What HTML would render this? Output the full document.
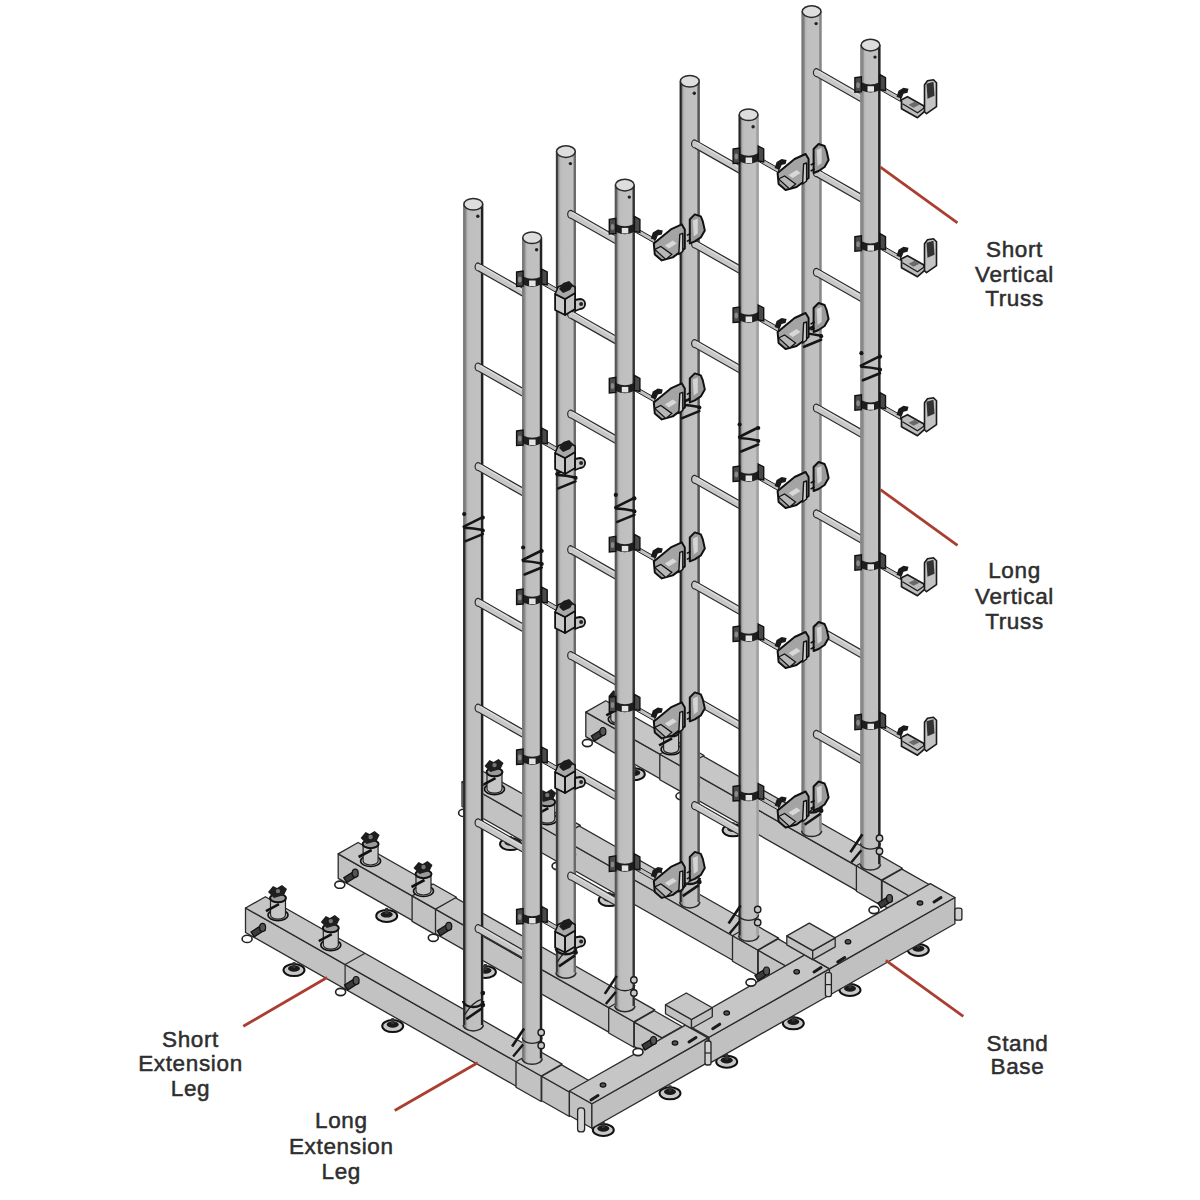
<!DOCTYPE html><html><head><meta charset="utf-8"><title>Truss stand</title><style>html,body{margin:0;padding:0;background:#fff;width:1200px;height:1200px;overflow:hidden}svg{display:block}</style></head><body><svg width="1200" height="1200" viewBox="0 0 1200 1200"><defs><linearGradient id="pg" x1="0" x2="1" y1="0" y2="0"><stop offset="0" stop-color="#7e7e7e"/><stop offset="0.14" stop-color="#8e8e8e"/><stop offset="0.2" stop-color="#b6b6b6"/><stop offset="0.3" stop-color="#bfbfbf"/><stop offset="0.85" stop-color="#c1c1c1"/><stop offset="1" stop-color="#b0b0b0"/></linearGradient></defs><rect width="1200" height="1200" fill="#fff"/>
<ellipse cx="634.3" cy="774.2" rx="10.5" ry="6" fill="#c8c8c8" stroke="#111" stroke-width="2"/>
<ellipse cx="634.3" cy="772.7" rx="6" ry="3.2" fill="#1a1a1a"/>
<rect x="632.8" y="766.2" width="3" height="6" fill="#333"/>
<ellipse cx="733.1" cy="830.3" rx="10.5" ry="6" fill="#c8c8c8" stroke="#111" stroke-width="2"/>
<ellipse cx="733.1" cy="828.8" rx="6" ry="3.2" fill="#1a1a1a"/>
<rect x="731.6" y="822.3" width="3" height="6" fill="#333"/>
<polygon points="585.8,736.6 856.9,890.6 856.9,866.1 585.8,712.1" fill="#c2c2c2" stroke="#2a2a2a" stroke-width="1.3" stroke-linejoin="round"/>
<polygon points="585.8,712.1 856.9,866.1 876.8,854.8 605.8,700.8" fill="#c6c6c6" stroke="#2a2a2a" stroke-width="1.3" stroke-linejoin="round"/>
<polygon points="882.0,904.9 909.7,920.7 909.7,896.2 882.0,880.4" fill="#c2c2c2" stroke="#2a2a2a" stroke-width="1.3" stroke-linejoin="round"/>
<polygon points="882.0,880.4 909.7,896.2 929.6,884.8 901.9,869.1" fill="#c6c6c6" stroke="#2a2a2a" stroke-width="1.3" stroke-linejoin="round"/>
<polygon points="856.4,891.3 881.5,905.6 881.5,880.1 856.4,865.8" fill="#c2c2c2" stroke="#2a2a2a" stroke-width="1.3" stroke-linejoin="round"/>
<polygon points="856.4,865.8 881.5,880.1 902.4,868.2 877.3,853.9" fill="#c6c6c6" stroke="#2a2a2a" stroke-width="1.3" stroke-linejoin="round"/>
<polygon points="659.8,779.7 683.2,792.9 683.2,767.4 659.8,754.2" fill="#c2c2c2" stroke="#2a2a2a" stroke-width="1.3" stroke-linejoin="round"/>
<polygon points="659.8,754.2 683.2,767.4 704.1,755.5 680.8,742.2" fill="#c6c6c6" stroke="#2a2a2a" stroke-width="1.3" stroke-linejoin="round"/>
<ellipse cx="618.3" cy="719.3" rx="10" ry="5.5" fill="#c4c4c4" stroke="#111" stroke-width="1.6"/>
<path d="M610.8,702.3 L610.8,719.3 A7.5,4 0 0 0 625.8,719.3 L625.8,702.3 Z" fill="#c6c6c6" stroke="#222" stroke-width="1.2"/>
<ellipse cx="618.3" cy="702.3" rx="8" ry="4.2" fill="#9a9a9a" stroke="#111" stroke-width="2"/>
<path d="M608.3,696.3 l5,-6 l4,2 l5,-3 l5,4 l-3,6 l-10,3 z" fill="#1e1e1e"/>
<circle cx="618.3" cy="695.3" r="2.2" fill="#777"/>
<line x1="606.3" y1="715.3" x2="619.3" y2="708.3" stroke="#111" stroke-width="2.6"/>
<ellipse cx="671.1" cy="749.3" rx="10" ry="5.5" fill="#c4c4c4" stroke="#111" stroke-width="1.6"/>
<path d="M663.6,732.3 L663.6,749.3 A7.5,4 0 0 0 678.6,749.3 L678.6,732.3 Z" fill="#c6c6c6" stroke="#222" stroke-width="1.2"/>
<ellipse cx="671.1" cy="732.3" rx="8" ry="4.2" fill="#9a9a9a" stroke="#111" stroke-width="2"/>
<path d="M661.1,726.3 l5,-6 l4,2 l5,-3 l5,4 l-3,6 l-10,3 z" fill="#1e1e1e"/>
<circle cx="671.1" cy="725.3" r="2.2" fill="#777"/>
<line x1="659.1" y1="745.3" x2="672.1" y2="738.3" stroke="#111" stroke-width="2.6"/>
<path d="M602.4,729.0 L591.4,736.0 L594.4,741.0 L605.4,734.0 Z" fill="#3a3a3a" stroke="#111" stroke-width="1.3"/>
<ellipse cx="602.9" cy="731.5" rx="3" ry="4" fill="#555" stroke="#111" stroke-width="1.2"/>
<ellipse cx="587.4" cy="743.0" rx="5" ry="3.6" fill="#fff" stroke="#222" stroke-width="1.6"/>
<path d="M696.0,782.1 L685.0,789.1 L688.0,794.1 L699.0,787.1 Z" fill="#3a3a3a" stroke="#111" stroke-width="1.3"/>
<ellipse cx="696.5" cy="784.6" rx="3" ry="4" fill="#555" stroke="#111" stroke-width="1.2"/>
<ellipse cx="681.0" cy="796.1" rx="5" ry="3.6" fill="#fff" stroke="#222" stroke-width="1.6"/>
<path d="M801.6,11.6 L801.6,830.7 A10.0,5.8 0 0 0 821.6,830.7 L821.6,11.6 Z" fill="url(#pg)"/>
<line x1="802.6" y1="11.6" x2="802.6" y2="830.7" stroke="#777" stroke-width="2.0"/>
<line x1="820.4" y1="11.6" x2="820.4" y2="830.7" stroke="#888" stroke-width="2.4"/>
<path d="M801.6,830.7 A10.0,5.8 0 0 0 821.6,830.7" fill="none" stroke="#2a2a2a" stroke-width="1.5"/>
<ellipse cx="811.6" cy="11.6" rx="9.4" ry="5.8" fill="#dedede" stroke="#2a2a2a" stroke-width="1.5"/>
<circle cx="816.1" cy="23.6" r="1.7" fill="#222"/>
<path d="M801.6,806.7 A10.0,5.8 0 0 0 821.6,806.7" fill="none" stroke="#151515" stroke-width="2.4"/>
<line x1="804.6" y1="824.7" x2="820.6" y2="813.7" stroke="#151515" stroke-width="2.6"/>
<path d="M802.6,820.7 Q811.6,806.7 820.6,804.7" fill="none" stroke="#222" stroke-width="1.4"/>
<circle cx="821.1" cy="798.7" r="2.4" fill="#151515"/>
<circle cx="821.1" cy="810.7" r="2.4" fill="#151515"/>
<path d="M802.1,332.2 L821.1,322.7 M802.6,333.2 Q811.6,333.7 821.1,335.7 M804.1,346.7 L821.1,339.7" stroke="#151515" stroke-width="2.6" fill="none" stroke-linecap="round"/>
<circle cx="802.6" cy="319.7" r="2.1" fill="#151515"/>
<circle cx="821.1" cy="323.2" r="2.1" fill="#151515"/>
<circle cx="821.1" cy="336.2" r="2.1" fill="#151515"/>
<path d="M816.6,68.6 L866.2,96.8 L866.2,104.8 L816.6,76.6 A3.2,4.0 0 0 1 816.6,68.6 Z" fill="#c8c8c8" stroke="#2a2a2a" stroke-width="1.2"/>
<line x1="818.6" y1="71.0" x2="866.2" y2="99.2" stroke="#dedede" stroke-width="1.2"/>
<path d="M816.6,168.7 L866.2,196.9 L866.2,204.9 L816.6,176.7 A3.2,4.0 0 0 1 816.6,168.7 Z" fill="#c8c8c8" stroke="#2a2a2a" stroke-width="1.2"/>
<line x1="818.6" y1="171.1" x2="866.2" y2="199.3" stroke="#dedede" stroke-width="1.2"/>
<path d="M816.6,268.3 L866.2,296.5 L866.2,304.5 L816.6,276.3 A3.2,4.0 0 0 1 816.6,268.3 Z" fill="#c8c8c8" stroke="#2a2a2a" stroke-width="1.2"/>
<line x1="818.6" y1="270.7" x2="866.2" y2="298.9" stroke="#dedede" stroke-width="1.2"/>
<path d="M816.6,404.0 L866.2,432.2 L866.2,440.2 L816.6,412.0 A3.2,4.0 0 0 1 816.6,404.0 Z" fill="#c8c8c8" stroke="#2a2a2a" stroke-width="1.2"/>
<line x1="818.6" y1="406.4" x2="866.2" y2="434.6" stroke="#dedede" stroke-width="1.2"/>
<path d="M816.6,509.8 L866.2,538.0 L866.2,546.0 L816.6,517.8 A3.2,4.0 0 0 1 816.6,509.8 Z" fill="#c8c8c8" stroke="#2a2a2a" stroke-width="1.2"/>
<line x1="818.6" y1="512.2" x2="866.2" y2="540.4" stroke="#dedede" stroke-width="1.2"/>
<path d="M816.6,624.5 L866.2,652.7 L866.2,660.7 L816.6,632.5 A3.2,4.0 0 0 1 816.6,624.5 Z" fill="#c8c8c8" stroke="#2a2a2a" stroke-width="1.2"/>
<line x1="818.6" y1="626.9" x2="866.2" y2="655.1" stroke="#dedede" stroke-width="1.2"/>
<path d="M816.6,730.3 L866.2,758.5 L866.2,766.5 L816.6,738.3 A3.2,4.0 0 0 1 816.6,730.3 Z" fill="#c8c8c8" stroke="#2a2a2a" stroke-width="1.2"/>
<line x1="818.6" y1="732.7" x2="866.2" y2="760.9" stroke="#dedede" stroke-width="1.2"/>
<path d="M860.4,45.1 L860.4,864.2 A10.0,5.8 0 0 0 880.5,864.2 L880.5,45.1 Z" fill="url(#pg)"/>
<line x1="861.4" y1="45.1" x2="861.4" y2="864.2" stroke="#888" stroke-width="2.0"/>
<line x1="879.3" y1="45.1" x2="879.3" y2="864.2" stroke="#222" stroke-width="2.4"/>
<path d="M860.4,864.2 A10.0,5.8 0 0 0 880.5,864.2" fill="none" stroke="#2a2a2a" stroke-width="1.5"/>
<ellipse cx="870.5" cy="45.1" rx="9.4" ry="5.8" fill="#dedede" stroke="#2a2a2a" stroke-width="1.5"/>
<circle cx="875.0" cy="57.1" r="1.7" fill="#222"/>
<path d="M860.4,843.2 A10.0,5.8 0 0 0 880.5,843.2" fill="none" stroke="#222" stroke-width="1.3"/>
<line x1="850.4" y1="852.2" x2="862.4" y2="834.2" stroke="#151515" stroke-width="2.6"/>
<line x1="851.4" y1="862.2" x2="861.4" y2="850.2" stroke="#151515" stroke-width="2.4"/>
<circle cx="879.5" cy="838.2" r="3.2" fill="#c8c8c8" stroke="#1a1a1a" stroke-width="1.4"/>
<circle cx="879.5" cy="851.2" r="3.2" fill="#c8c8c8" stroke="#1a1a1a" stroke-width="1.4"/>
<path d="M860.9,365.7 L880.0,356.2 M861.4,366.7 Q870.5,367.2 880.0,369.2 M862.9,380.2 L880.0,373.2" stroke="#151515" stroke-width="2.6" fill="none" stroke-linecap="round"/>
<circle cx="861.4" cy="353.2" r="2.1" fill="#151515"/>
<circle cx="880.0" cy="356.7" r="2.1" fill="#151515"/>
<circle cx="880.0" cy="369.7" r="2.1" fill="#151515"/>
<path d="M878.5,84.4 L900.5,96.9 L900.5,101.5 L878.5,89.0 Z" fill="#c0c0c0" stroke="#222" stroke-width="1"/>
<path d="M859.4,78.7 A11.0,5.8 0 0 0 881.5,78.7 L881.5,86.7 A11.0,5.8 0 0 1 859.4,86.7 Z" fill="#1e1e1e"/>
<path d="M854.9,77.7 l6.5,-1 l0,15 l-6.5,0.5 z" fill="#4a4a4a" stroke="#111" stroke-width="1.4"/>
<ellipse cx="858.1" cy="85.2" rx="1.8" ry="3" fill="#888"/>
<path d="M880.0,74.7 l5.5,3 l0,13 l-5.5,-1 z" fill="#4a4a4a" stroke="#111" stroke-width="1.4"/>
<rect x="867.5" y="86.2" width="6.5" height="5.5" fill="#e4e4e4"/>
<g transform="translate(870.5,85.7)"><path d="M26,11 L28,5 L33,2 L38,3 L37,7 L33,8 L31,13 Z" fill="#1a1a1a"/><path d="M31,14 L37,11 L53,20 L55,25 L47,32 L31,23 Z" fill="#bdbdbd" stroke="#1a1a1a" stroke-width="1.7" stroke-linejoin="round"/><path d="M32,18 L47,27 L54,22" fill="none" stroke="#1a1a1a" stroke-width="1.2"/><path d="M38,19 L44,16 L49,19 L43,22 Z" fill="#6a6a6a"/><path d="M54,-1 L57,-5 L63,-6 L66,-3 L66,21 L56,28 L54,26 Z" fill="#c4c4c4" stroke="#1a1a1a" stroke-width="1.6" stroke-linejoin="round"/><path d="M56,-2 L63,-4 L64,10 L57,13 Z" fill="#333"/></g>
<path d="M878.5,243.4 L900.5,255.9 L900.5,260.5 L878.5,248.0 Z" fill="#c0c0c0" stroke="#222" stroke-width="1"/>
<path d="M859.4,237.7 A11.0,5.8 0 0 0 881.5,237.7 L881.5,245.7 A11.0,5.8 0 0 1 859.4,245.7 Z" fill="#1e1e1e"/>
<path d="M854.9,236.7 l6.5,-1 l0,15 l-6.5,0.5 z" fill="#4a4a4a" stroke="#111" stroke-width="1.4"/>
<ellipse cx="858.1" cy="244.2" rx="1.8" ry="3" fill="#888"/>
<path d="M880.0,233.7 l5.5,3 l0,13 l-5.5,-1 z" fill="#4a4a4a" stroke="#111" stroke-width="1.4"/>
<rect x="867.5" y="245.2" width="6.5" height="5.5" fill="#e4e4e4"/>
<g transform="translate(870.5,244.7)"><path d="M26,11 L28,5 L33,2 L38,3 L37,7 L33,8 L31,13 Z" fill="#1a1a1a"/><path d="M31,14 L37,11 L53,20 L55,25 L47,32 L31,23 Z" fill="#bdbdbd" stroke="#1a1a1a" stroke-width="1.7" stroke-linejoin="round"/><path d="M32,18 L47,27 L54,22" fill="none" stroke="#1a1a1a" stroke-width="1.2"/><path d="M38,19 L44,16 L49,19 L43,22 Z" fill="#6a6a6a"/><path d="M54,-1 L57,-5 L63,-6 L66,-3 L66,21 L56,28 L54,26 Z" fill="#c4c4c4" stroke="#1a1a1a" stroke-width="1.6" stroke-linejoin="round"/><path d="M56,-2 L63,-4 L64,10 L57,13 Z" fill="#333"/></g>
<path d="M878.5,402.4 L900.5,414.9 L900.5,419.5 L878.5,407.0 Z" fill="#c0c0c0" stroke="#222" stroke-width="1"/>
<path d="M859.4,396.7 A11.0,5.8 0 0 0 881.5,396.7 L881.5,404.7 A11.0,5.8 0 0 1 859.4,404.7 Z" fill="#1e1e1e"/>
<path d="M854.9,395.7 l6.5,-1 l0,15 l-6.5,0.5 z" fill="#4a4a4a" stroke="#111" stroke-width="1.4"/>
<ellipse cx="858.1" cy="403.2" rx="1.8" ry="3" fill="#888"/>
<path d="M880.0,392.7 l5.5,3 l0,13 l-5.5,-1 z" fill="#4a4a4a" stroke="#111" stroke-width="1.4"/>
<rect x="867.5" y="404.2" width="6.5" height="5.5" fill="#e4e4e4"/>
<g transform="translate(870.5,403.7)"><path d="M26,11 L28,5 L33,2 L38,3 L37,7 L33,8 L31,13 Z" fill="#1a1a1a"/><path d="M31,14 L37,11 L53,20 L55,25 L47,32 L31,23 Z" fill="#bdbdbd" stroke="#1a1a1a" stroke-width="1.7" stroke-linejoin="round"/><path d="M32,18 L47,27 L54,22" fill="none" stroke="#1a1a1a" stroke-width="1.2"/><path d="M38,19 L44,16 L49,19 L43,22 Z" fill="#6a6a6a"/><path d="M54,-1 L57,-5 L63,-6 L66,-3 L66,21 L56,28 L54,26 Z" fill="#c4c4c4" stroke="#1a1a1a" stroke-width="1.6" stroke-linejoin="round"/><path d="M56,-2 L63,-4 L64,10 L57,13 Z" fill="#333"/></g>
<path d="M878.5,562.4 L900.5,574.9 L900.5,579.5 L878.5,567.0 Z" fill="#c0c0c0" stroke="#222" stroke-width="1"/>
<path d="M859.4,556.7 A11.0,5.8 0 0 0 881.5,556.7 L881.5,564.7 A11.0,5.8 0 0 1 859.4,564.7 Z" fill="#1e1e1e"/>
<path d="M854.9,555.7 l6.5,-1 l0,15 l-6.5,0.5 z" fill="#4a4a4a" stroke="#111" stroke-width="1.4"/>
<ellipse cx="858.1" cy="563.2" rx="1.8" ry="3" fill="#888"/>
<path d="M880.0,552.7 l5.5,3 l0,13 l-5.5,-1 z" fill="#4a4a4a" stroke="#111" stroke-width="1.4"/>
<rect x="867.5" y="564.2" width="6.5" height="5.5" fill="#e4e4e4"/>
<g transform="translate(870.5,563.7)"><path d="M26,11 L28,5 L33,2 L38,3 L37,7 L33,8 L31,13 Z" fill="#1a1a1a"/><path d="M31,14 L37,11 L53,20 L55,25 L47,32 L31,23 Z" fill="#bdbdbd" stroke="#1a1a1a" stroke-width="1.7" stroke-linejoin="round"/><path d="M32,18 L47,27 L54,22" fill="none" stroke="#1a1a1a" stroke-width="1.2"/><path d="M38,19 L44,16 L49,19 L43,22 Z" fill="#6a6a6a"/><path d="M54,-1 L57,-5 L63,-6 L66,-3 L66,21 L56,28 L54,26 Z" fill="#c4c4c4" stroke="#1a1a1a" stroke-width="1.6" stroke-linejoin="round"/><path d="M56,-2 L63,-4 L64,10 L57,13 Z" fill="#333"/></g>
<path d="M878.5,721.9 L900.5,734.4 L900.5,739.0 L878.5,726.5 Z" fill="#c0c0c0" stroke="#222" stroke-width="1"/>
<path d="M859.4,716.2 A11.0,5.8 0 0 0 881.5,716.2 L881.5,724.2 A11.0,5.8 0 0 1 859.4,724.2 Z" fill="#1e1e1e"/>
<path d="M854.9,715.2 l6.5,-1 l0,15 l-6.5,0.5 z" fill="#4a4a4a" stroke="#111" stroke-width="1.4"/>
<ellipse cx="858.1" cy="722.7" rx="1.8" ry="3" fill="#888"/>
<path d="M880.0,712.2 l5.5,3 l0,13 l-5.5,-1 z" fill="#4a4a4a" stroke="#111" stroke-width="1.4"/>
<rect x="867.5" y="723.7" width="6.5" height="5.5" fill="#e4e4e4"/>
<g transform="translate(870.5,723.2)"><path d="M26,11 L28,5 L33,2 L38,3 L37,7 L33,8 L31,13 Z" fill="#1a1a1a"/><path d="M31,14 L37,11 L53,20 L55,25 L47,32 L31,23 Z" fill="#bdbdbd" stroke="#1a1a1a" stroke-width="1.7" stroke-linejoin="round"/><path d="M32,18 L47,27 L54,22" fill="none" stroke="#1a1a1a" stroke-width="1.2"/><path d="M38,19 L44,16 L49,19 L43,22 Z" fill="#6a6a6a"/><path d="M54,-1 L57,-5 L63,-6 L66,-3 L66,21 L56,28 L54,26 Z" fill="#c4c4c4" stroke="#1a1a1a" stroke-width="1.6" stroke-linejoin="round"/><path d="M56,-2 L63,-4 L64,10 L57,13 Z" fill="#333"/></g>
<ellipse cx="510.5" cy="844.1" rx="10.5" ry="6" fill="#c8c8c8" stroke="#111" stroke-width="2"/>
<ellipse cx="510.5" cy="842.6" rx="6" ry="3.2" fill="#1a1a1a"/>
<rect x="509.0" y="836.1" width="3" height="6" fill="#333"/>
<ellipse cx="609.2" cy="900.1" rx="10.5" ry="6" fill="#c8c8c8" stroke="#111" stroke-width="2"/>
<ellipse cx="609.2" cy="898.6" rx="6" ry="3.2" fill="#1a1a1a"/>
<rect x="607.7" y="892.1" width="3" height="6" fill="#333"/>
<polygon points="462.0,806.5 733.1,960.5 733.1,936.0 462.0,782.0" fill="#c2c2c2" stroke="#2a2a2a" stroke-width="1.3" stroke-linejoin="round"/>
<polygon points="462.0,782.0 733.1,936.0 753.0,924.7 481.9,770.7" fill="#c6c6c6" stroke="#2a2a2a" stroke-width="1.3" stroke-linejoin="round"/>
<polygon points="758.2,974.8 785.9,990.5 785.9,966.0 758.2,950.3" fill="#c2c2c2" stroke="#2a2a2a" stroke-width="1.3" stroke-linejoin="round"/>
<polygon points="758.2,950.3 785.9,966.0 805.8,954.7 778.1,938.9" fill="#c6c6c6" stroke="#2a2a2a" stroke-width="1.3" stroke-linejoin="round"/>
<polygon points="732.5,961.2 757.7,975.5 757.7,950.0 732.5,935.7" fill="#c2c2c2" stroke="#2a2a2a" stroke-width="1.3" stroke-linejoin="round"/>
<polygon points="732.5,935.7 757.7,950.0 778.6,938.1 753.5,923.8" fill="#c6c6c6" stroke="#2a2a2a" stroke-width="1.3" stroke-linejoin="round"/>
<polygon points="536.0,849.5 559.3,862.8 559.3,837.3 536.0,824.0" fill="#c2c2c2" stroke="#2a2a2a" stroke-width="1.3" stroke-linejoin="round"/>
<polygon points="536.0,824.0 559.3,837.3 580.3,825.4 556.9,812.1" fill="#c6c6c6" stroke="#2a2a2a" stroke-width="1.3" stroke-linejoin="round"/>
<ellipse cx="494.5" cy="789.1" rx="10" ry="5.5" fill="#c4c4c4" stroke="#111" stroke-width="1.6"/>
<path d="M487.0,772.1 L487.0,789.1 A7.5,4 0 0 0 502.0,789.1 L502.0,772.1 Z" fill="#c6c6c6" stroke="#222" stroke-width="1.2"/>
<ellipse cx="494.5" cy="772.1" rx="8" ry="4.2" fill="#9a9a9a" stroke="#111" stroke-width="2"/>
<path d="M484.5,766.1 l5,-6 l4,2 l5,-3 l5,4 l-3,6 l-10,3 z" fill="#1e1e1e"/>
<circle cx="494.5" cy="765.1" r="2.2" fill="#777"/>
<line x1="482.5" y1="785.1" x2="495.5" y2="778.1" stroke="#111" stroke-width="2.6"/>
<ellipse cx="547.3" cy="819.1" rx="10" ry="5.5" fill="#c4c4c4" stroke="#111" stroke-width="1.6"/>
<path d="M539.8,802.1 L539.8,819.1 A7.5,4 0 0 0 554.8,819.1 L554.8,802.1 Z" fill="#c6c6c6" stroke="#222" stroke-width="1.2"/>
<ellipse cx="547.3" cy="802.1" rx="8" ry="4.2" fill="#9a9a9a" stroke="#111" stroke-width="2"/>
<path d="M537.3,796.1 l5,-6 l4,2 l5,-3 l5,4 l-3,6 l-10,3 z" fill="#1e1e1e"/>
<circle cx="547.3" cy="795.1" r="2.2" fill="#777"/>
<line x1="535.3" y1="815.1" x2="548.3" y2="808.1" stroke="#111" stroke-width="2.6"/>
<path d="M478.6,798.9 L467.6,805.9 L470.6,810.9 L481.6,803.9 Z" fill="#3a3a3a" stroke="#111" stroke-width="1.3"/>
<ellipse cx="479.1" cy="801.4" rx="3" ry="4" fill="#555" stroke="#111" stroke-width="1.2"/>
<ellipse cx="463.6" cy="812.9" rx="5" ry="3.6" fill="#fff" stroke="#222" stroke-width="1.6"/>
<path d="M572.1,852.0 L561.1,859.0 L564.1,864.0 L575.1,857.0 Z" fill="#3a3a3a" stroke="#111" stroke-width="1.3"/>
<ellipse cx="572.6" cy="854.5" rx="3" ry="4" fill="#555" stroke="#111" stroke-width="1.2"/>
<ellipse cx="557.1" cy="866.0" rx="5" ry="3.6" fill="#fff" stroke="#222" stroke-width="1.6"/>
<path d="M679.7,81.3 L679.7,902.1 A10.0,5.8 0 0 0 699.8,902.1 L699.8,81.3 Z" fill="url(#pg)"/>
<line x1="680.7" y1="81.3" x2="680.7" y2="902.1" stroke="#222" stroke-width="2.0"/>
<line x1="698.6" y1="81.3" x2="698.6" y2="902.1" stroke="#555" stroke-width="2.4"/>
<path d="M679.7,902.1 A10.0,5.8 0 0 0 699.8,902.1" fill="none" stroke="#2a2a2a" stroke-width="1.5"/>
<ellipse cx="689.8" cy="81.3" rx="9.4" ry="5.8" fill="#dedede" stroke="#2a2a2a" stroke-width="1.5"/>
<circle cx="694.3" cy="93.3" r="1.7" fill="#222"/>
<path d="M679.7,878.1 A10.0,5.8 0 0 0 699.8,878.1" fill="none" stroke="#151515" stroke-width="2.4"/>
<line x1="682.7" y1="896.1" x2="698.8" y2="885.1" stroke="#151515" stroke-width="2.6"/>
<path d="M680.7,892.1 Q689.8,878.1 698.8,876.1" fill="none" stroke="#222" stroke-width="1.4"/>
<circle cx="699.3" cy="870.1" r="2.4" fill="#151515"/>
<circle cx="699.3" cy="882.1" r="2.4" fill="#151515"/>
<path d="M680.2,403.6 L699.3,394.1 M680.7,404.6 Q689.8,405.1 699.3,407.1 M682.2,418.1 L699.3,411.1" stroke="#151515" stroke-width="2.6" fill="none" stroke-linecap="round"/>
<circle cx="680.7" cy="391.1" r="2.1" fill="#151515"/>
<circle cx="699.3" cy="394.6" r="2.1" fill="#151515"/>
<circle cx="699.3" cy="407.6" r="2.1" fill="#151515"/>
<path d="M694.8,139.9 L744.4,168.1 L744.4,176.1 L694.8,147.9 A3.2,4.0 0 0 1 694.8,139.9 Z" fill="#c8c8c8" stroke="#2a2a2a" stroke-width="1.2"/>
<line x1="696.8" y1="142.3" x2="744.4" y2="170.5" stroke="#dedede" stroke-width="1.2"/>
<path d="M694.8,240.0 L744.4,268.2 L744.4,276.2 L694.8,248.0 A3.2,4.0 0 0 1 694.8,240.0 Z" fill="#c8c8c8" stroke="#2a2a2a" stroke-width="1.2"/>
<line x1="696.8" y1="242.4" x2="744.4" y2="270.6" stroke="#dedede" stroke-width="1.2"/>
<path d="M694.8,339.6 L744.4,367.8 L744.4,375.8 L694.8,347.6 A3.2,4.0 0 0 1 694.8,339.6 Z" fill="#c8c8c8" stroke="#2a2a2a" stroke-width="1.2"/>
<line x1="696.8" y1="342.0" x2="744.4" y2="370.2" stroke="#dedede" stroke-width="1.2"/>
<path d="M694.8,475.3 L744.4,503.5 L744.4,511.5 L694.8,483.3 A3.2,4.0 0 0 1 694.8,475.3 Z" fill="#c8c8c8" stroke="#2a2a2a" stroke-width="1.2"/>
<line x1="696.8" y1="477.7" x2="744.4" y2="505.9" stroke="#dedede" stroke-width="1.2"/>
<path d="M694.8,581.1 L744.4,609.3 L744.4,617.3 L694.8,589.1 A3.2,4.0 0 0 1 694.8,581.1 Z" fill="#c8c8c8" stroke="#2a2a2a" stroke-width="1.2"/>
<line x1="696.8" y1="583.5" x2="744.4" y2="611.7" stroke="#dedede" stroke-width="1.2"/>
<path d="M694.8,695.8 L744.4,724.0 L744.4,732.0 L694.8,703.8 A3.2,4.0 0 0 1 694.8,695.8 Z" fill="#c8c8c8" stroke="#2a2a2a" stroke-width="1.2"/>
<line x1="696.8" y1="698.2" x2="744.4" y2="726.4" stroke="#dedede" stroke-width="1.2"/>
<path d="M694.8,801.6 L744.4,829.8 L744.4,837.8 L694.8,809.6 A3.2,4.0 0 0 1 694.8,801.6 Z" fill="#c8c8c8" stroke="#2a2a2a" stroke-width="1.2"/>
<line x1="696.8" y1="804.0" x2="744.4" y2="832.2" stroke="#dedede" stroke-width="1.2"/>
<path d="M738.6,114.7 L738.6,935.5 A10.0,5.8 0 0 0 758.7,935.5 L758.7,114.7 Z" fill="url(#pg)"/>
<line x1="739.6" y1="114.7" x2="739.6" y2="935.5" stroke="#222" stroke-width="2.0"/>
<line x1="757.5" y1="114.7" x2="757.5" y2="935.5" stroke="#a0a0a0" stroke-width="2.4"/>
<path d="M738.6,935.5 A10.0,5.8 0 0 0 758.7,935.5" fill="none" stroke="#2a2a2a" stroke-width="1.5"/>
<ellipse cx="748.6" cy="114.7" rx="9.4" ry="5.8" fill="#dedede" stroke="#2a2a2a" stroke-width="1.5"/>
<circle cx="753.1" cy="126.7" r="1.7" fill="#222"/>
<path d="M738.6,914.5 A10.0,5.8 0 0 0 758.7,914.5" fill="none" stroke="#222" stroke-width="1.3"/>
<line x1="728.6" y1="923.5" x2="740.6" y2="905.5" stroke="#151515" stroke-width="2.6"/>
<line x1="729.6" y1="933.5" x2="739.6" y2="921.5" stroke="#151515" stroke-width="2.4"/>
<circle cx="757.7" cy="909.5" r="3.2" fill="#c8c8c8" stroke="#1a1a1a" stroke-width="1.4"/>
<circle cx="757.7" cy="922.5" r="3.2" fill="#c8c8c8" stroke="#1a1a1a" stroke-width="1.4"/>
<path d="M739.1,437.0 L758.2,427.5 M739.6,438.0 Q748.6,438.5 758.2,440.5 M741.1,451.5 L758.2,444.5" stroke="#151515" stroke-width="2.6" fill="none" stroke-linecap="round"/>
<circle cx="739.6" cy="424.5" r="2.1" fill="#151515"/>
<circle cx="758.2" cy="428.0" r="2.1" fill="#151515"/>
<circle cx="758.2" cy="441.0" r="2.1" fill="#151515"/>
<path d="M756.6,155.7 L778.6,168.2 L778.6,172.8 L756.6,160.3 Z" fill="#c0c0c0" stroke="#222" stroke-width="1"/>
<path d="M737.6,150.0 A11.0,5.8 0 0 0 759.7,150.0 L759.7,158.0 A11.0,5.8 0 0 1 737.6,158.0 Z" fill="#1e1e1e"/>
<path d="M733.1,149.0 l6.5,-1 l0,15 l-6.5,0.5 z" fill="#4a4a4a" stroke="#111" stroke-width="1.4"/>
<ellipse cx="736.3" cy="156.5" rx="1.8" ry="3" fill="#888"/>
<path d="M758.2,146.0 l5.5,3 l0,13 l-5.5,-1 z" fill="#4a4a4a" stroke="#111" stroke-width="1.4"/>
<rect x="745.6" y="157.5" width="6.5" height="5.5" fill="#e4e4e4"/>
<g transform="translate(748.6,157.0)"><path d="M26,11 L28,5 L33,2 L38,3 L37,7 L33,8 L31,13 Z" fill="#1a1a1a"/><path d="M29,16 L46,2 L57,-3 L60,2 L60,21 L48,30 L37,33 L30,27 Z" fill="#a4a4a4" stroke="#111" stroke-width="2" stroke-linejoin="round"/><path d="M30,22 L36,19 L47,27 L41,32 Z" fill="#b8b8b8" stroke="#111" stroke-width="1.2"/><path d="M40,18 L48,13 L52,16 L44,21 Z" fill="#d8d8d8"/><path d="M55,7 L58,6 L58,24 L54,27 Z" fill="#d0d0d0" stroke="#111" stroke-width="1.4" stroke-linejoin="round"/><path d="M65,-8 L70,-13 L76,-11 L78,-6 L80,3 L76,10 L70,14 L65,16 Z" fill="#9a9a9a" stroke="#111" stroke-width="2" stroke-linejoin="round"/><path d="M68,-7 L73,-9 L73,6 L69,9 Z" fill="#d4d4d4"/><path d="M62,8 L66,6 M62,14 L66,12" stroke="#111" stroke-width="1.6"/></g>
<path d="M756.6,314.7 L778.6,327.2 L778.6,331.8 L756.6,319.3 Z" fill="#c0c0c0" stroke="#222" stroke-width="1"/>
<path d="M737.6,309.0 A11.0,5.8 0 0 0 759.7,309.0 L759.7,317.0 A11.0,5.8 0 0 1 737.6,317.0 Z" fill="#1e1e1e"/>
<path d="M733.1,308.0 l6.5,-1 l0,15 l-6.5,0.5 z" fill="#4a4a4a" stroke="#111" stroke-width="1.4"/>
<ellipse cx="736.3" cy="315.5" rx="1.8" ry="3" fill="#888"/>
<path d="M758.2,305.0 l5.5,3 l0,13 l-5.5,-1 z" fill="#4a4a4a" stroke="#111" stroke-width="1.4"/>
<rect x="745.6" y="316.5" width="6.5" height="5.5" fill="#e4e4e4"/>
<g transform="translate(748.6,316.0)"><path d="M26,11 L28,5 L33,2 L38,3 L37,7 L33,8 L31,13 Z" fill="#1a1a1a"/><path d="M29,16 L46,2 L57,-3 L60,2 L60,21 L48,30 L37,33 L30,27 Z" fill="#a4a4a4" stroke="#111" stroke-width="2" stroke-linejoin="round"/><path d="M30,22 L36,19 L47,27 L41,32 Z" fill="#b8b8b8" stroke="#111" stroke-width="1.2"/><path d="M40,18 L48,13 L52,16 L44,21 Z" fill="#d8d8d8"/><path d="M55,7 L58,6 L58,24 L54,27 Z" fill="#d0d0d0" stroke="#111" stroke-width="1.4" stroke-linejoin="round"/><path d="M65,-8 L70,-13 L76,-11 L78,-6 L80,3 L76,10 L70,14 L65,16 Z" fill="#9a9a9a" stroke="#111" stroke-width="2" stroke-linejoin="round"/><path d="M68,-7 L73,-9 L73,6 L69,9 Z" fill="#d4d4d4"/><path d="M62,8 L66,6 M62,14 L66,12" stroke="#111" stroke-width="1.6"/></g>
<path d="M756.6,473.7 L778.6,486.2 L778.6,490.8 L756.6,478.3 Z" fill="#c0c0c0" stroke="#222" stroke-width="1"/>
<path d="M737.6,468.0 A11.0,5.8 0 0 0 759.7,468.0 L759.7,476.0 A11.0,5.8 0 0 1 737.6,476.0 Z" fill="#1e1e1e"/>
<path d="M733.1,467.0 l6.5,-1 l0,15 l-6.5,0.5 z" fill="#4a4a4a" stroke="#111" stroke-width="1.4"/>
<ellipse cx="736.3" cy="474.5" rx="1.8" ry="3" fill="#888"/>
<path d="M758.2,464.0 l5.5,3 l0,13 l-5.5,-1 z" fill="#4a4a4a" stroke="#111" stroke-width="1.4"/>
<rect x="745.6" y="475.5" width="6.5" height="5.5" fill="#e4e4e4"/>
<g transform="translate(748.6,475.0)"><path d="M26,11 L28,5 L33,2 L38,3 L37,7 L33,8 L31,13 Z" fill="#1a1a1a"/><path d="M29,16 L46,2 L57,-3 L60,2 L60,21 L48,30 L37,33 L30,27 Z" fill="#a4a4a4" stroke="#111" stroke-width="2" stroke-linejoin="round"/><path d="M30,22 L36,19 L47,27 L41,32 Z" fill="#b8b8b8" stroke="#111" stroke-width="1.2"/><path d="M40,18 L48,13 L52,16 L44,21 Z" fill="#d8d8d8"/><path d="M55,7 L58,6 L58,24 L54,27 Z" fill="#d0d0d0" stroke="#111" stroke-width="1.4" stroke-linejoin="round"/><path d="M65,-8 L70,-13 L76,-11 L78,-6 L80,3 L76,10 L70,14 L65,16 Z" fill="#9a9a9a" stroke="#111" stroke-width="2" stroke-linejoin="round"/><path d="M68,-7 L73,-9 L73,6 L69,9 Z" fill="#d4d4d4"/><path d="M62,8 L66,6 M62,14 L66,12" stroke="#111" stroke-width="1.6"/></g>
<path d="M756.6,633.7 L778.6,646.2 L778.6,650.8 L756.6,638.3 Z" fill="#c0c0c0" stroke="#222" stroke-width="1"/>
<path d="M737.6,628.0 A11.0,5.8 0 0 0 759.7,628.0 L759.7,636.0 A11.0,5.8 0 0 1 737.6,636.0 Z" fill="#1e1e1e"/>
<path d="M733.1,627.0 l6.5,-1 l0,15 l-6.5,0.5 z" fill="#4a4a4a" stroke="#111" stroke-width="1.4"/>
<ellipse cx="736.3" cy="634.5" rx="1.8" ry="3" fill="#888"/>
<path d="M758.2,624.0 l5.5,3 l0,13 l-5.5,-1 z" fill="#4a4a4a" stroke="#111" stroke-width="1.4"/>
<rect x="745.6" y="635.5" width="6.5" height="5.5" fill="#e4e4e4"/>
<g transform="translate(748.6,635.0)"><path d="M26,11 L28,5 L33,2 L38,3 L37,7 L33,8 L31,13 Z" fill="#1a1a1a"/><path d="M29,16 L46,2 L57,-3 L60,2 L60,21 L48,30 L37,33 L30,27 Z" fill="#a4a4a4" stroke="#111" stroke-width="2" stroke-linejoin="round"/><path d="M30,22 L36,19 L47,27 L41,32 Z" fill="#b8b8b8" stroke="#111" stroke-width="1.2"/><path d="M40,18 L48,13 L52,16 L44,21 Z" fill="#d8d8d8"/><path d="M55,7 L58,6 L58,24 L54,27 Z" fill="#d0d0d0" stroke="#111" stroke-width="1.4" stroke-linejoin="round"/><path d="M65,-8 L70,-13 L76,-11 L78,-6 L80,3 L76,10 L70,14 L65,16 Z" fill="#9a9a9a" stroke="#111" stroke-width="2" stroke-linejoin="round"/><path d="M68,-7 L73,-9 L73,6 L69,9 Z" fill="#d4d4d4"/><path d="M62,8 L66,6 M62,14 L66,12" stroke="#111" stroke-width="1.6"/></g>
<path d="M756.6,793.2 L778.6,805.7 L778.6,810.3 L756.6,797.8 Z" fill="#c0c0c0" stroke="#222" stroke-width="1"/>
<path d="M737.6,787.5 A11.0,5.8 0 0 0 759.7,787.5 L759.7,795.5 A11.0,5.8 0 0 1 737.6,795.5 Z" fill="#1e1e1e"/>
<path d="M733.1,786.5 l6.5,-1 l0,15 l-6.5,0.5 z" fill="#4a4a4a" stroke="#111" stroke-width="1.4"/>
<ellipse cx="736.3" cy="794.0" rx="1.8" ry="3" fill="#888"/>
<path d="M758.2,783.5 l5.5,3 l0,13 l-5.5,-1 z" fill="#4a4a4a" stroke="#111" stroke-width="1.4"/>
<rect x="745.6" y="795.0" width="6.5" height="5.5" fill="#e4e4e4"/>
<g transform="translate(748.6,794.5)"><path d="M26,11 L28,5 L33,2 L38,3 L37,7 L33,8 L31,13 Z" fill="#1a1a1a"/><path d="M29,16 L46,2 L57,-3 L60,2 L60,21 L48,30 L37,33 L30,27 Z" fill="#a4a4a4" stroke="#111" stroke-width="2" stroke-linejoin="round"/><path d="M30,22 L36,19 L47,27 L41,32 Z" fill="#b8b8b8" stroke="#111" stroke-width="1.2"/><path d="M40,18 L48,13 L52,16 L44,21 Z" fill="#d8d8d8"/><path d="M55,7 L58,6 L58,24 L54,27 Z" fill="#d0d0d0" stroke="#111" stroke-width="1.4" stroke-linejoin="round"/><path d="M65,-8 L70,-13 L76,-11 L78,-6 L80,3 L76,10 L70,14 L65,16 Z" fill="#9a9a9a" stroke="#111" stroke-width="2" stroke-linejoin="round"/><path d="M68,-7 L73,-9 L73,6 L69,9 Z" fill="#d4d4d4"/><path d="M62,8 L66,6 M62,14 L66,12" stroke="#111" stroke-width="1.6"/></g>
<ellipse cx="386.7" cy="915.9" rx="10.5" ry="6" fill="#c8c8c8" stroke="#111" stroke-width="2"/>
<ellipse cx="386.7" cy="914.4" rx="6" ry="3.2" fill="#1a1a1a"/>
<rect x="385.2" y="907.9" width="3" height="6" fill="#333"/>
<ellipse cx="485.4" cy="972.0" rx="10.5" ry="6" fill="#c8c8c8" stroke="#111" stroke-width="2"/>
<ellipse cx="485.4" cy="970.5" rx="6" ry="3.2" fill="#1a1a1a"/>
<rect x="483.9" y="964.0" width="3" height="6" fill="#333"/>
<polygon points="338.2,878.4 609.2,1032.4 609.2,1007.9 338.2,853.9" fill="#c2c2c2" stroke="#2a2a2a" stroke-width="1.3" stroke-linejoin="round"/>
<polygon points="338.2,853.9 609.2,1007.9 629.1,996.5 358.1,842.5" fill="#c6c6c6" stroke="#2a2a2a" stroke-width="1.3" stroke-linejoin="round"/>
<polygon points="634.3,1046.6 662.0,1062.4 662.0,1037.9 634.3,1022.1" fill="#c2c2c2" stroke="#2a2a2a" stroke-width="1.3" stroke-linejoin="round"/>
<polygon points="634.3,1022.1 662.0,1037.9 682.0,1026.5 654.3,1010.8" fill="#c6c6c6" stroke="#2a2a2a" stroke-width="1.3" stroke-linejoin="round"/>
<polygon points="608.7,1033.0 633.8,1047.3 633.8,1021.8 608.7,1007.5" fill="#c2c2c2" stroke="#2a2a2a" stroke-width="1.3" stroke-linejoin="round"/>
<polygon points="608.7,1007.5 633.8,1021.8 654.8,1009.9 629.7,995.6" fill="#c6c6c6" stroke="#2a2a2a" stroke-width="1.3" stroke-linejoin="round"/>
<polygon points="412.1,921.4 435.5,934.6 435.5,909.1 412.1,895.9" fill="#c2c2c2" stroke="#2a2a2a" stroke-width="1.3" stroke-linejoin="round"/>
<polygon points="412.1,895.9 435.5,909.1 456.5,897.2 433.1,884.0" fill="#c6c6c6" stroke="#2a2a2a" stroke-width="1.3" stroke-linejoin="round"/>
<ellipse cx="370.6" cy="861.0" rx="10" ry="5.5" fill="#c4c4c4" stroke="#111" stroke-width="1.6"/>
<path d="M363.1,844.0 L363.1,861.0 A7.5,4 0 0 0 378.1,861.0 L378.1,844.0 Z" fill="#c6c6c6" stroke="#222" stroke-width="1.2"/>
<ellipse cx="370.6" cy="844.0" rx="8" ry="4.2" fill="#9a9a9a" stroke="#111" stroke-width="2"/>
<path d="M360.6,838.0 l5,-6 l4,2 l5,-3 l5,4 l-3,6 l-10,3 z" fill="#1e1e1e"/>
<circle cx="370.6" cy="837.0" r="2.2" fill="#777"/>
<line x1="358.6" y1="857.0" x2="371.6" y2="850.0" stroke="#111" stroke-width="2.6"/>
<ellipse cx="423.5" cy="891.0" rx="10" ry="5.5" fill="#c4c4c4" stroke="#111" stroke-width="1.6"/>
<path d="M416.0,874.0 L416.0,891.0 A7.5,4 0 0 0 431.0,891.0 L431.0,874.0 Z" fill="#c6c6c6" stroke="#222" stroke-width="1.2"/>
<ellipse cx="423.5" cy="874.0" rx="8" ry="4.2" fill="#9a9a9a" stroke="#111" stroke-width="2"/>
<path d="M413.5,868.0 l5,-6 l4,2 l5,-3 l5,4 l-3,6 l-10,3 z" fill="#1e1e1e"/>
<circle cx="423.5" cy="867.0" r="2.2" fill="#777"/>
<line x1="411.5" y1="887.0" x2="424.5" y2="880.0" stroke="#111" stroke-width="2.6"/>
<path d="M354.8,870.7 L343.8,877.7 L346.8,882.7 L357.8,875.7 Z" fill="#3a3a3a" stroke="#111" stroke-width="1.3"/>
<ellipse cx="355.2" cy="873.2" rx="3" ry="4" fill="#555" stroke="#111" stroke-width="1.2"/>
<ellipse cx="339.8" cy="884.7" rx="5" ry="3.6" fill="#fff" stroke="#222" stroke-width="1.6"/>
<path d="M448.3,923.8 L437.3,930.8 L440.3,935.8 L451.3,928.8 Z" fill="#3a3a3a" stroke="#111" stroke-width="1.3"/>
<ellipse cx="448.8" cy="926.3" rx="3" ry="4" fill="#555" stroke="#111" stroke-width="1.2"/>
<ellipse cx="433.3" cy="937.8" rx="5" ry="3.6" fill="#fff" stroke="#222" stroke-width="1.6"/>
<path d="M555.9,151.6 L555.9,972.4 A10.0,5.8 0 0 0 576.0,972.4 L576.0,151.6 Z" fill="url(#pg)"/>
<line x1="556.9" y1="151.6" x2="556.9" y2="972.4" stroke="#3a3a3a" stroke-width="2.0"/>
<line x1="574.8" y1="151.6" x2="574.8" y2="972.4" stroke="#6a6a6a" stroke-width="2.4"/>
<path d="M555.9,972.4 A10.0,5.8 0 0 0 576.0,972.4" fill="none" stroke="#2a2a2a" stroke-width="1.5"/>
<ellipse cx="565.9" cy="151.6" rx="9.4" ry="5.8" fill="#dedede" stroke="#2a2a2a" stroke-width="1.5"/>
<circle cx="570.4" cy="163.6" r="1.7" fill="#222"/>
<path d="M555.9,948.4 A10.0,5.8 0 0 0 576.0,948.4" fill="none" stroke="#151515" stroke-width="2.4"/>
<line x1="558.9" y1="966.4" x2="575.0" y2="955.4" stroke="#151515" stroke-width="2.6"/>
<path d="M556.9,962.4 Q565.9,948.4 575.0,946.4" fill="none" stroke="#222" stroke-width="1.4"/>
<circle cx="575.5" cy="940.4" r="2.4" fill="#151515"/>
<circle cx="575.5" cy="952.4" r="2.4" fill="#151515"/>
<path d="M556.4,473.9 L575.5,464.4 M556.9,474.9 Q565.9,475.4 575.5,477.4 M558.4,488.4 L575.5,481.4" stroke="#151515" stroke-width="2.6" fill="none" stroke-linecap="round"/>
<circle cx="556.9" cy="461.4" r="2.1" fill="#151515"/>
<circle cx="575.5" cy="464.9" r="2.1" fill="#151515"/>
<circle cx="575.5" cy="477.9" r="2.1" fill="#151515"/>
<path d="M570.9,210.3 L620.5,238.5 L620.5,246.5 L570.9,218.3 A3.2,4.0 0 0 1 570.9,210.3 Z" fill="#c8c8c8" stroke="#2a2a2a" stroke-width="1.2"/>
<line x1="572.9" y1="212.7" x2="620.5" y2="240.9" stroke="#dedede" stroke-width="1.2"/>
<path d="M570.9,310.4 L620.5,338.6 L620.5,346.6 L570.9,318.4 A3.2,4.0 0 0 1 570.9,310.4 Z" fill="#c8c8c8" stroke="#2a2a2a" stroke-width="1.2"/>
<line x1="572.9" y1="312.8" x2="620.5" y2="341.0" stroke="#dedede" stroke-width="1.2"/>
<path d="M570.9,410.0 L620.5,438.2 L620.5,446.2 L570.9,418.0 A3.2,4.0 0 0 1 570.9,410.0 Z" fill="#c8c8c8" stroke="#2a2a2a" stroke-width="1.2"/>
<line x1="572.9" y1="412.4" x2="620.5" y2="440.6" stroke="#dedede" stroke-width="1.2"/>
<path d="M570.9,545.7 L620.5,573.9 L620.5,581.9 L570.9,553.7 A3.2,4.0 0 0 1 570.9,545.7 Z" fill="#c8c8c8" stroke="#2a2a2a" stroke-width="1.2"/>
<line x1="572.9" y1="548.1" x2="620.5" y2="576.3" stroke="#dedede" stroke-width="1.2"/>
<path d="M570.9,651.5 L620.5,679.7 L620.5,687.7 L570.9,659.5 A3.2,4.0 0 0 1 570.9,651.5 Z" fill="#c8c8c8" stroke="#2a2a2a" stroke-width="1.2"/>
<line x1="572.9" y1="653.9" x2="620.5" y2="682.1" stroke="#dedede" stroke-width="1.2"/>
<path d="M570.9,766.2 L620.5,794.4 L620.5,802.4 L570.9,774.2 A3.2,4.0 0 0 1 570.9,766.2 Z" fill="#c8c8c8" stroke="#2a2a2a" stroke-width="1.2"/>
<line x1="572.9" y1="768.6" x2="620.5" y2="796.8" stroke="#dedede" stroke-width="1.2"/>
<path d="M570.9,872.0 L620.5,900.2 L620.5,908.2 L570.9,880.0 A3.2,4.0 0 0 1 570.9,872.0 Z" fill="#c8c8c8" stroke="#2a2a2a" stroke-width="1.2"/>
<line x1="572.9" y1="874.4" x2="620.5" y2="902.6" stroke="#dedede" stroke-width="1.2"/>
<path d="M614.8,185.1 L614.8,1005.9 A10.0,5.8 0 0 0 634.9,1005.9 L634.9,185.1 Z" fill="url(#pg)"/>
<line x1="615.8" y1="185.1" x2="615.8" y2="1005.9" stroke="#555" stroke-width="2.0"/>
<line x1="633.7" y1="185.1" x2="633.7" y2="1005.9" stroke="#333" stroke-width="2.4"/>
<path d="M614.8,1005.9 A10.0,5.8 0 0 0 634.9,1005.9" fill="none" stroke="#2a2a2a" stroke-width="1.5"/>
<ellipse cx="624.8" cy="185.1" rx="9.4" ry="5.8" fill="#dedede" stroke="#2a2a2a" stroke-width="1.5"/>
<circle cx="629.3" cy="197.1" r="1.7" fill="#222"/>
<path d="M614.8,984.9 A10.0,5.8 0 0 0 634.9,984.9" fill="none" stroke="#222" stroke-width="1.3"/>
<line x1="604.8" y1="993.9" x2="616.8" y2="975.9" stroke="#151515" stroke-width="2.6"/>
<line x1="605.8" y1="1003.9" x2="615.8" y2="991.9" stroke="#151515" stroke-width="2.4"/>
<circle cx="633.9" cy="979.9" r="3.2" fill="#c8c8c8" stroke="#1a1a1a" stroke-width="1.4"/>
<circle cx="633.9" cy="992.9" r="3.2" fill="#c8c8c8" stroke="#1a1a1a" stroke-width="1.4"/>
<path d="M615.3,507.4 L634.4,497.9 M615.8,508.4 Q624.8,508.9 634.4,510.9 M617.3,521.9 L634.4,514.9" stroke="#151515" stroke-width="2.6" fill="none" stroke-linecap="round"/>
<circle cx="615.8" cy="494.9" r="2.1" fill="#151515"/>
<circle cx="634.4" cy="498.4" r="2.1" fill="#151515"/>
<circle cx="634.4" cy="511.4" r="2.1" fill="#151515"/>
<path d="M632.8,226.1 L654.8,238.6 L654.8,243.2 L632.8,230.7 Z" fill="#c0c0c0" stroke="#222" stroke-width="1"/>
<path d="M613.8,220.4 A11.0,5.8 0 0 0 635.9,220.4 L635.9,228.4 A11.0,5.8 0 0 1 613.8,228.4 Z" fill="#1e1e1e"/>
<path d="M609.3,219.4 l6.5,-1 l0,15 l-6.5,0.5 z" fill="#4a4a4a" stroke="#111" stroke-width="1.4"/>
<ellipse cx="612.5" cy="226.9" rx="1.8" ry="3" fill="#888"/>
<path d="M634.4,216.4 l5.5,3 l0,13 l-5.5,-1 z" fill="#4a4a4a" stroke="#111" stroke-width="1.4"/>
<rect x="621.8" y="227.9" width="6.5" height="5.5" fill="#e4e4e4"/>
<g transform="translate(624.8,227.4)"><path d="M26,11 L28,5 L33,2 L38,3 L37,7 L33,8 L31,13 Z" fill="#1a1a1a"/><path d="M29,16 L46,2 L57,-3 L60,2 L60,21 L48,30 L37,33 L30,27 Z" fill="#a4a4a4" stroke="#111" stroke-width="2" stroke-linejoin="round"/><path d="M30,22 L36,19 L47,27 L41,32 Z" fill="#b8b8b8" stroke="#111" stroke-width="1.2"/><path d="M40,18 L48,13 L52,16 L44,21 Z" fill="#d8d8d8"/><path d="M55,7 L58,6 L58,24 L54,27 Z" fill="#d0d0d0" stroke="#111" stroke-width="1.4" stroke-linejoin="round"/><path d="M65,-8 L70,-13 L76,-11 L78,-6 L80,3 L76,10 L70,14 L65,16 Z" fill="#9a9a9a" stroke="#111" stroke-width="2" stroke-linejoin="round"/><path d="M68,-7 L73,-9 L73,6 L69,9 Z" fill="#d4d4d4"/><path d="M62,8 L66,6 M62,14 L66,12" stroke="#111" stroke-width="1.6"/></g>
<path d="M632.8,385.1 L654.8,397.6 L654.8,402.2 L632.8,389.7 Z" fill="#c0c0c0" stroke="#222" stroke-width="1"/>
<path d="M613.8,379.4 A11.0,5.8 0 0 0 635.9,379.4 L635.9,387.4 A11.0,5.8 0 0 1 613.8,387.4 Z" fill="#1e1e1e"/>
<path d="M609.3,378.4 l6.5,-1 l0,15 l-6.5,0.5 z" fill="#4a4a4a" stroke="#111" stroke-width="1.4"/>
<ellipse cx="612.5" cy="385.9" rx="1.8" ry="3" fill="#888"/>
<path d="M634.4,375.4 l5.5,3 l0,13 l-5.5,-1 z" fill="#4a4a4a" stroke="#111" stroke-width="1.4"/>
<rect x="621.8" y="386.9" width="6.5" height="5.5" fill="#e4e4e4"/>
<g transform="translate(624.8,386.4)"><path d="M26,11 L28,5 L33,2 L38,3 L37,7 L33,8 L31,13 Z" fill="#1a1a1a"/><path d="M29,16 L46,2 L57,-3 L60,2 L60,21 L48,30 L37,33 L30,27 Z" fill="#a4a4a4" stroke="#111" stroke-width="2" stroke-linejoin="round"/><path d="M30,22 L36,19 L47,27 L41,32 Z" fill="#b8b8b8" stroke="#111" stroke-width="1.2"/><path d="M40,18 L48,13 L52,16 L44,21 Z" fill="#d8d8d8"/><path d="M55,7 L58,6 L58,24 L54,27 Z" fill="#d0d0d0" stroke="#111" stroke-width="1.4" stroke-linejoin="round"/><path d="M65,-8 L70,-13 L76,-11 L78,-6 L80,3 L76,10 L70,14 L65,16 Z" fill="#9a9a9a" stroke="#111" stroke-width="2" stroke-linejoin="round"/><path d="M68,-7 L73,-9 L73,6 L69,9 Z" fill="#d4d4d4"/><path d="M62,8 L66,6 M62,14 L66,12" stroke="#111" stroke-width="1.6"/></g>
<path d="M632.8,544.1 L654.8,556.6 L654.8,561.2 L632.8,548.7 Z" fill="#c0c0c0" stroke="#222" stroke-width="1"/>
<path d="M613.8,538.4 A11.0,5.8 0 0 0 635.9,538.4 L635.9,546.4 A11.0,5.8 0 0 1 613.8,546.4 Z" fill="#1e1e1e"/>
<path d="M609.3,537.4 l6.5,-1 l0,15 l-6.5,0.5 z" fill="#4a4a4a" stroke="#111" stroke-width="1.4"/>
<ellipse cx="612.5" cy="544.9" rx="1.8" ry="3" fill="#888"/>
<path d="M634.4,534.4 l5.5,3 l0,13 l-5.5,-1 z" fill="#4a4a4a" stroke="#111" stroke-width="1.4"/>
<rect x="621.8" y="545.9" width="6.5" height="5.5" fill="#e4e4e4"/>
<g transform="translate(624.8,545.4)"><path d="M26,11 L28,5 L33,2 L38,3 L37,7 L33,8 L31,13 Z" fill="#1a1a1a"/><path d="M29,16 L46,2 L57,-3 L60,2 L60,21 L48,30 L37,33 L30,27 Z" fill="#a4a4a4" stroke="#111" stroke-width="2" stroke-linejoin="round"/><path d="M30,22 L36,19 L47,27 L41,32 Z" fill="#b8b8b8" stroke="#111" stroke-width="1.2"/><path d="M40,18 L48,13 L52,16 L44,21 Z" fill="#d8d8d8"/><path d="M55,7 L58,6 L58,24 L54,27 Z" fill="#d0d0d0" stroke="#111" stroke-width="1.4" stroke-linejoin="round"/><path d="M65,-8 L70,-13 L76,-11 L78,-6 L80,3 L76,10 L70,14 L65,16 Z" fill="#9a9a9a" stroke="#111" stroke-width="2" stroke-linejoin="round"/><path d="M68,-7 L73,-9 L73,6 L69,9 Z" fill="#d4d4d4"/><path d="M62,8 L66,6 M62,14 L66,12" stroke="#111" stroke-width="1.6"/></g>
<path d="M632.8,704.1 L654.8,716.6 L654.8,721.2 L632.8,708.7 Z" fill="#c0c0c0" stroke="#222" stroke-width="1"/>
<path d="M613.8,698.4 A11.0,5.8 0 0 0 635.9,698.4 L635.9,706.4 A11.0,5.8 0 0 1 613.8,706.4 Z" fill="#1e1e1e"/>
<path d="M609.3,697.4 l6.5,-1 l0,15 l-6.5,0.5 z" fill="#4a4a4a" stroke="#111" stroke-width="1.4"/>
<ellipse cx="612.5" cy="704.9" rx="1.8" ry="3" fill="#888"/>
<path d="M634.4,694.4 l5.5,3 l0,13 l-5.5,-1 z" fill="#4a4a4a" stroke="#111" stroke-width="1.4"/>
<rect x="621.8" y="705.9" width="6.5" height="5.5" fill="#e4e4e4"/>
<g transform="translate(624.8,705.4)"><path d="M26,11 L28,5 L33,2 L38,3 L37,7 L33,8 L31,13 Z" fill="#1a1a1a"/><path d="M29,16 L46,2 L57,-3 L60,2 L60,21 L48,30 L37,33 L30,27 Z" fill="#a4a4a4" stroke="#111" stroke-width="2" stroke-linejoin="round"/><path d="M30,22 L36,19 L47,27 L41,32 Z" fill="#b8b8b8" stroke="#111" stroke-width="1.2"/><path d="M40,18 L48,13 L52,16 L44,21 Z" fill="#d8d8d8"/><path d="M55,7 L58,6 L58,24 L54,27 Z" fill="#d0d0d0" stroke="#111" stroke-width="1.4" stroke-linejoin="round"/><path d="M65,-8 L70,-13 L76,-11 L78,-6 L80,3 L76,10 L70,14 L65,16 Z" fill="#9a9a9a" stroke="#111" stroke-width="2" stroke-linejoin="round"/><path d="M68,-7 L73,-9 L73,6 L69,9 Z" fill="#d4d4d4"/><path d="M62,8 L66,6 M62,14 L66,12" stroke="#111" stroke-width="1.6"/></g>
<path d="M632.8,863.6 L654.8,876.1 L654.8,880.7 L632.8,868.2 Z" fill="#c0c0c0" stroke="#222" stroke-width="1"/>
<path d="M613.8,857.9 A11.0,5.8 0 0 0 635.9,857.9 L635.9,865.9 A11.0,5.8 0 0 1 613.8,865.9 Z" fill="#1e1e1e"/>
<path d="M609.3,856.9 l6.5,-1 l0,15 l-6.5,0.5 z" fill="#4a4a4a" stroke="#111" stroke-width="1.4"/>
<ellipse cx="612.5" cy="864.4" rx="1.8" ry="3" fill="#888"/>
<path d="M634.4,853.9 l5.5,3 l0,13 l-5.5,-1 z" fill="#4a4a4a" stroke="#111" stroke-width="1.4"/>
<rect x="621.8" y="865.4" width="6.5" height="5.5" fill="#e4e4e4"/>
<g transform="translate(624.8,864.9)"><path d="M26,11 L28,5 L33,2 L38,3 L37,7 L33,8 L31,13 Z" fill="#1a1a1a"/><path d="M29,16 L46,2 L57,-3 L60,2 L60,21 L48,30 L37,33 L30,27 Z" fill="#a4a4a4" stroke="#111" stroke-width="2" stroke-linejoin="round"/><path d="M30,22 L36,19 L47,27 L41,32 Z" fill="#b8b8b8" stroke="#111" stroke-width="1.2"/><path d="M40,18 L48,13 L52,16 L44,21 Z" fill="#d8d8d8"/><path d="M55,7 L58,6 L58,24 L54,27 Z" fill="#d0d0d0" stroke="#111" stroke-width="1.4" stroke-linejoin="round"/><path d="M65,-8 L70,-13 L76,-11 L78,-6 L80,3 L76,10 L70,14 L65,16 Z" fill="#9a9a9a" stroke="#111" stroke-width="2" stroke-linejoin="round"/><path d="M68,-7 L73,-9 L73,6 L69,9 Z" fill="#d4d4d4"/><path d="M62,8 L66,6 M62,14 L66,12" stroke="#111" stroke-width="1.6"/></g>
<ellipse cx="294.0" cy="970.1" rx="10.5" ry="6" fill="#c8c8c8" stroke="#111" stroke-width="2"/>
<ellipse cx="294.0" cy="968.6" rx="6" ry="3.2" fill="#1a1a1a"/>
<rect x="292.5" y="962.1" width="3" height="6" fill="#333"/>
<ellipse cx="392.7" cy="1026.1" rx="10.5" ry="6" fill="#c8c8c8" stroke="#111" stroke-width="2"/>
<ellipse cx="392.7" cy="1024.6" rx="6" ry="3.2" fill="#1a1a1a"/>
<rect x="391.2" y="1018.1" width="3" height="6" fill="#333"/>
<polygon points="245.5,932.5 516.6,1086.5 516.6,1062.0 245.5,908.0" fill="#c2c2c2" stroke="#2a2a2a" stroke-width="1.3" stroke-linejoin="round"/>
<polygon points="245.5,908.0 516.6,1062.0 536.5,1050.7 265.4,896.7" fill="#c6c6c6" stroke="#2a2a2a" stroke-width="1.3" stroke-linejoin="round"/>
<polygon points="541.7,1100.8 569.4,1116.5 569.4,1092.0 541.7,1076.3" fill="#c2c2c2" stroke="#2a2a2a" stroke-width="1.3" stroke-linejoin="round"/>
<polygon points="541.7,1076.3 569.4,1092.0 589.3,1080.7 561.6,1064.9" fill="#c6c6c6" stroke="#2a2a2a" stroke-width="1.3" stroke-linejoin="round"/>
<polygon points="516.0,1087.2 541.2,1101.5 541.2,1076.0 516.0,1061.7" fill="#c2c2c2" stroke="#2a2a2a" stroke-width="1.3" stroke-linejoin="round"/>
<polygon points="516.0,1061.7 541.2,1076.0 562.1,1064.1 537.0,1049.8" fill="#c6c6c6" stroke="#2a2a2a" stroke-width="1.3" stroke-linejoin="round"/>
<line x1="345.1" y1="989.1" x2="345.1" y2="964.6" stroke="#2a2a2a" stroke-width="1.2"/>
<line x1="345.1" y1="964.6" x2="365.0" y2="953.3" stroke="#2a2a2a" stroke-width="1.2"/>
<ellipse cx="278.0" cy="915.1" rx="10" ry="5.5" fill="#c4c4c4" stroke="#111" stroke-width="1.6"/>
<path d="M270.5,898.1 L270.5,915.1 A7.5,4 0 0 0 285.5,915.1 L285.5,898.1 Z" fill="#c6c6c6" stroke="#222" stroke-width="1.2"/>
<ellipse cx="278.0" cy="898.1" rx="8" ry="4.2" fill="#9a9a9a" stroke="#111" stroke-width="2"/>
<path d="M268.0,892.1 l5,-6 l4,2 l5,-3 l5,4 l-3,6 l-10,3 z" fill="#1e1e1e"/>
<circle cx="278.0" cy="891.1" r="2.2" fill="#777"/>
<line x1="266.0" y1="911.1" x2="279.0" y2="904.1" stroke="#111" stroke-width="2.6"/>
<ellipse cx="330.8" cy="945.1" rx="10" ry="5.5" fill="#c4c4c4" stroke="#111" stroke-width="1.6"/>
<path d="M323.3,928.1 L323.3,945.1 A7.5,4 0 0 0 338.3,945.1 L338.3,928.1 Z" fill="#c6c6c6" stroke="#222" stroke-width="1.2"/>
<ellipse cx="330.8" cy="928.1" rx="8" ry="4.2" fill="#9a9a9a" stroke="#111" stroke-width="2"/>
<path d="M320.8,922.1 l5,-6 l4,2 l5,-3 l5,4 l-3,6 l-10,3 z" fill="#1e1e1e"/>
<circle cx="330.8" cy="921.1" r="2.2" fill="#777"/>
<line x1="318.8" y1="941.1" x2="331.8" y2="934.1" stroke="#111" stroke-width="2.6"/>
<path d="M262.1,924.9 L251.1,931.9 L254.1,936.9 L265.1,929.9 Z" fill="#3a3a3a" stroke="#111" stroke-width="1.3"/>
<ellipse cx="262.6" cy="927.4" rx="3" ry="4" fill="#555" stroke="#111" stroke-width="1.2"/>
<ellipse cx="247.1" cy="938.9" rx="5" ry="3.6" fill="#fff" stroke="#222" stroke-width="1.6"/>
<path d="M355.6,978.0 L344.6,985.0 L347.6,990.0 L358.6,983.0 Z" fill="#3a3a3a" stroke="#111" stroke-width="1.3"/>
<ellipse cx="356.1" cy="980.5" rx="3" ry="4" fill="#555" stroke="#111" stroke-width="1.2"/>
<ellipse cx="340.6" cy="992.0" rx="5" ry="3.6" fill="#fff" stroke="#222" stroke-width="1.6"/>
<path d="M463.2,204.3 L463.2,1025.1 A10.0,5.8 0 0 0 483.3,1025.1 L483.3,204.3 Z" fill="url(#pg)"/>
<line x1="464.2" y1="204.3" x2="464.2" y2="1025.1" stroke="#7a7a7a" stroke-width="2.0"/>
<line x1="482.1" y1="204.3" x2="482.1" y2="1025.1" stroke="#222" stroke-width="2.4"/>
<path d="M463.2,1025.1 A10.0,5.8 0 0 0 483.3,1025.1" fill="none" stroke="#2a2a2a" stroke-width="1.5"/>
<ellipse cx="473.3" cy="204.3" rx="9.4" ry="5.8" fill="#dedede" stroke="#2a2a2a" stroke-width="1.5"/>
<circle cx="477.8" cy="216.3" r="1.7" fill="#222"/>
<line x1="464.2" y1="527.1" x2="464.2" y2="1025.1" stroke="#2a2a2a" stroke-width="2.2"/>
<path d="M463.2,1001.1 A10.0,5.8 0 0 0 483.3,1001.1" fill="none" stroke="#151515" stroke-width="2.4"/>
<line x1="466.2" y1="1019.1" x2="482.3" y2="1008.1" stroke="#151515" stroke-width="2.6"/>
<path d="M464.2,1015.1 Q473.3,1001.1 482.3,999.1" fill="none" stroke="#222" stroke-width="1.4"/>
<circle cx="482.8" cy="993.1" r="2.4" fill="#151515"/>
<circle cx="482.8" cy="1005.1" r="2.4" fill="#151515"/>
<path d="M463.7,526.6 L482.8,517.1 M464.2,527.6 Q473.3,528.1 482.8,530.1 M465.7,541.1 L482.8,534.1" stroke="#151515" stroke-width="2.6" fill="none" stroke-linecap="round"/>
<circle cx="464.2" cy="514.1" r="2.1" fill="#151515"/>
<circle cx="482.8" cy="517.6" r="2.1" fill="#151515"/>
<circle cx="482.8" cy="530.6" r="2.1" fill="#151515"/>
<path d="M478.3,262.9 L527.9,291.1 L527.9,299.1 L478.3,270.9 A3.2,4.0 0 0 1 478.3,262.9 Z" fill="#c8c8c8" stroke="#2a2a2a" stroke-width="1.2"/>
<line x1="480.3" y1="265.3" x2="527.9" y2="293.5" stroke="#dedede" stroke-width="1.2"/>
<path d="M478.3,363.0 L527.9,391.2 L527.9,399.2 L478.3,371.0 A3.2,4.0 0 0 1 478.3,363.0 Z" fill="#c8c8c8" stroke="#2a2a2a" stroke-width="1.2"/>
<line x1="480.3" y1="365.4" x2="527.9" y2="393.6" stroke="#dedede" stroke-width="1.2"/>
<path d="M478.3,462.6 L527.9,490.8 L527.9,498.8 L478.3,470.6 A3.2,4.0 0 0 1 478.3,462.6 Z" fill="#c8c8c8" stroke="#2a2a2a" stroke-width="1.2"/>
<line x1="480.3" y1="465.0" x2="527.9" y2="493.2" stroke="#dedede" stroke-width="1.2"/>
<path d="M478.3,598.3 L527.9,626.5 L527.9,634.5 L478.3,606.3 A3.2,4.0 0 0 1 478.3,598.3 Z" fill="#c8c8c8" stroke="#2a2a2a" stroke-width="1.2"/>
<line x1="480.3" y1="600.7" x2="527.9" y2="628.9" stroke="#dedede" stroke-width="1.2"/>
<path d="M478.3,704.1 L527.9,732.3 L527.9,740.3 L478.3,712.1 A3.2,4.0 0 0 1 478.3,704.1 Z" fill="#c8c8c8" stroke="#2a2a2a" stroke-width="1.2"/>
<line x1="480.3" y1="706.5" x2="527.9" y2="734.7" stroke="#dedede" stroke-width="1.2"/>
<path d="M478.3,818.8 L527.9,847.0 L527.9,855.0 L478.3,826.8 A3.2,4.0 0 0 1 478.3,818.8 Z" fill="#c8c8c8" stroke="#2a2a2a" stroke-width="1.2"/>
<line x1="480.3" y1="821.2" x2="527.9" y2="849.4" stroke="#dedede" stroke-width="1.2"/>
<path d="M478.3,924.6 L527.9,952.8 L527.9,960.8 L478.3,932.6 A3.2,4.0 0 0 1 478.3,924.6 Z" fill="#c8c8c8" stroke="#2a2a2a" stroke-width="1.2"/>
<line x1="480.3" y1="927.0" x2="527.9" y2="955.2" stroke="#dedede" stroke-width="1.2"/>
<path d="M522.1,237.7 L522.1,1058.5 A10.0,5.8 0 0 0 542.2,1058.5 L542.2,237.7 Z" fill="url(#pg)"/>
<line x1="523.1" y1="237.7" x2="523.1" y2="1058.5" stroke="#7a7a7a" stroke-width="2.0"/>
<line x1="541.0" y1="237.7" x2="541.0" y2="1058.5" stroke="#222" stroke-width="2.4"/>
<path d="M522.1,1058.5 A10.0,5.8 0 0 0 542.2,1058.5" fill="none" stroke="#2a2a2a" stroke-width="1.5"/>
<ellipse cx="532.1" cy="237.7" rx="9.4" ry="5.8" fill="#dedede" stroke="#2a2a2a" stroke-width="1.5"/>
<circle cx="536.6" cy="249.7" r="1.7" fill="#222"/>
<path d="M522.1,1037.5 A10.0,5.8 0 0 0 542.2,1037.5" fill="none" stroke="#222" stroke-width="1.3"/>
<line x1="512.1" y1="1046.5" x2="524.1" y2="1028.5" stroke="#151515" stroke-width="2.6"/>
<line x1="513.1" y1="1056.5" x2="523.1" y2="1044.5" stroke="#151515" stroke-width="2.4"/>
<circle cx="541.2" cy="1032.5" r="3.2" fill="#c8c8c8" stroke="#1a1a1a" stroke-width="1.4"/>
<circle cx="541.2" cy="1045.5" r="3.2" fill="#c8c8c8" stroke="#1a1a1a" stroke-width="1.4"/>
<path d="M522.6,560.0 L541.7,550.5 M523.1,561.0 Q532.1,561.5 541.7,563.5 M524.6,574.5 L541.7,567.5" stroke="#151515" stroke-width="2.6" fill="none" stroke-linecap="round"/>
<circle cx="523.1" cy="547.5" r="2.1" fill="#151515"/>
<circle cx="541.7" cy="551.0" r="2.1" fill="#151515"/>
<circle cx="541.7" cy="564.0" r="2.1" fill="#151515"/>
<path d="M540.1,278.7 L562.1,291.2 L562.1,295.8 L540.1,283.3 Z" fill="#c0c0c0" stroke="#222" stroke-width="1"/>
<path d="M521.1,273.0 A11.0,5.8 0 0 0 543.2,273.0 L543.2,281.0 A11.0,5.8 0 0 1 521.1,281.0 Z" fill="#1e1e1e"/>
<path d="M516.6,272.0 l6.5,-1 l0,15 l-6.5,0.5 z" fill="#4a4a4a" stroke="#111" stroke-width="1.4"/>
<ellipse cx="519.8" cy="279.5" rx="1.8" ry="3" fill="#888"/>
<path d="M541.7,269.0 l5.5,3 l0,13 l-5.5,-1 z" fill="#4a4a4a" stroke="#111" stroke-width="1.4"/>
<rect x="529.1" y="280.5" width="6.5" height="5.5" fill="#e4e4e4"/>
<g transform="translate(532.1,280.0)"><path d="M23,14 L33,19 L33,35 L23,30 Z" fill="#cacaca" stroke="#111" stroke-width="1.8" stroke-linejoin="round"/><path d="M33,19 L43,13 L43,29 L33,35 Z" fill="#c2c2c2" stroke="#111" stroke-width="1.8" stroke-linejoin="round"/><path d="M23,14 L26,7 L35,3 L43,7 L43,13 L33,19 Z" fill="#a8a8a8" stroke="#111" stroke-width="1.6" stroke-linejoin="round"/><path d="M27,9 L31,3 L37,1 L41,5 L38,10 L31,13 Z" fill="#1c1c1c"/><path d="M43,20 L48,19 A5,5 0 1 1 48,29 L43,31 Z" fill="#c6c6c6" stroke="#111" stroke-width="1.8" stroke-linejoin="round"/><circle cx="49" cy="24" r="2" fill="#222"/></g>
<path d="M540.1,437.7 L562.1,450.2 L562.1,454.8 L540.1,442.3 Z" fill="#c0c0c0" stroke="#222" stroke-width="1"/>
<path d="M521.1,432.0 A11.0,5.8 0 0 0 543.2,432.0 L543.2,440.0 A11.0,5.8 0 0 1 521.1,440.0 Z" fill="#1e1e1e"/>
<path d="M516.6,431.0 l6.5,-1 l0,15 l-6.5,0.5 z" fill="#4a4a4a" stroke="#111" stroke-width="1.4"/>
<ellipse cx="519.8" cy="438.5" rx="1.8" ry="3" fill="#888"/>
<path d="M541.7,428.0 l5.5,3 l0,13 l-5.5,-1 z" fill="#4a4a4a" stroke="#111" stroke-width="1.4"/>
<rect x="529.1" y="439.5" width="6.5" height="5.5" fill="#e4e4e4"/>
<g transform="translate(532.1,439.0)"><path d="M23,14 L33,19 L33,35 L23,30 Z" fill="#cacaca" stroke="#111" stroke-width="1.8" stroke-linejoin="round"/><path d="M33,19 L43,13 L43,29 L33,35 Z" fill="#c2c2c2" stroke="#111" stroke-width="1.8" stroke-linejoin="round"/><path d="M23,14 L26,7 L35,3 L43,7 L43,13 L33,19 Z" fill="#a8a8a8" stroke="#111" stroke-width="1.6" stroke-linejoin="round"/><path d="M27,9 L31,3 L37,1 L41,5 L38,10 L31,13 Z" fill="#1c1c1c"/><path d="M43,20 L48,19 A5,5 0 1 1 48,29 L43,31 Z" fill="#c6c6c6" stroke="#111" stroke-width="1.8" stroke-linejoin="round"/><circle cx="49" cy="24" r="2" fill="#222"/></g>
<path d="M540.1,596.7 L562.1,609.2 L562.1,613.8 L540.1,601.3 Z" fill="#c0c0c0" stroke="#222" stroke-width="1"/>
<path d="M521.1,591.0 A11.0,5.8 0 0 0 543.2,591.0 L543.2,599.0 A11.0,5.8 0 0 1 521.1,599.0 Z" fill="#1e1e1e"/>
<path d="M516.6,590.0 l6.5,-1 l0,15 l-6.5,0.5 z" fill="#4a4a4a" stroke="#111" stroke-width="1.4"/>
<ellipse cx="519.8" cy="597.5" rx="1.8" ry="3" fill="#888"/>
<path d="M541.7,587.0 l5.5,3 l0,13 l-5.5,-1 z" fill="#4a4a4a" stroke="#111" stroke-width="1.4"/>
<rect x="529.1" y="598.5" width="6.5" height="5.5" fill="#e4e4e4"/>
<g transform="translate(532.1,598.0)"><path d="M23,14 L33,19 L33,35 L23,30 Z" fill="#cacaca" stroke="#111" stroke-width="1.8" stroke-linejoin="round"/><path d="M33,19 L43,13 L43,29 L33,35 Z" fill="#c2c2c2" stroke="#111" stroke-width="1.8" stroke-linejoin="round"/><path d="M23,14 L26,7 L35,3 L43,7 L43,13 L33,19 Z" fill="#a8a8a8" stroke="#111" stroke-width="1.6" stroke-linejoin="round"/><path d="M27,9 L31,3 L37,1 L41,5 L38,10 L31,13 Z" fill="#1c1c1c"/><path d="M43,20 L48,19 A5,5 0 1 1 48,29 L43,31 Z" fill="#c6c6c6" stroke="#111" stroke-width="1.8" stroke-linejoin="round"/><circle cx="49" cy="24" r="2" fill="#222"/></g>
<path d="M540.1,756.7 L562.1,769.2 L562.1,773.8 L540.1,761.3 Z" fill="#c0c0c0" stroke="#222" stroke-width="1"/>
<path d="M521.1,751.0 A11.0,5.8 0 0 0 543.2,751.0 L543.2,759.0 A11.0,5.8 0 0 1 521.1,759.0 Z" fill="#1e1e1e"/>
<path d="M516.6,750.0 l6.5,-1 l0,15 l-6.5,0.5 z" fill="#4a4a4a" stroke="#111" stroke-width="1.4"/>
<ellipse cx="519.8" cy="757.5" rx="1.8" ry="3" fill="#888"/>
<path d="M541.7,747.0 l5.5,3 l0,13 l-5.5,-1 z" fill="#4a4a4a" stroke="#111" stroke-width="1.4"/>
<rect x="529.1" y="758.5" width="6.5" height="5.5" fill="#e4e4e4"/>
<g transform="translate(532.1,758.0)"><path d="M23,14 L33,19 L33,35 L23,30 Z" fill="#cacaca" stroke="#111" stroke-width="1.8" stroke-linejoin="round"/><path d="M33,19 L43,13 L43,29 L33,35 Z" fill="#c2c2c2" stroke="#111" stroke-width="1.8" stroke-linejoin="round"/><path d="M23,14 L26,7 L35,3 L43,7 L43,13 L33,19 Z" fill="#a8a8a8" stroke="#111" stroke-width="1.6" stroke-linejoin="round"/><path d="M27,9 L31,3 L37,1 L41,5 L38,10 L31,13 Z" fill="#1c1c1c"/><path d="M43,20 L48,19 A5,5 0 1 1 48,29 L43,31 Z" fill="#c6c6c6" stroke="#111" stroke-width="1.8" stroke-linejoin="round"/><circle cx="49" cy="24" r="2" fill="#222"/></g>
<path d="M540.1,916.2 L562.1,928.7 L562.1,933.3 L540.1,920.8 Z" fill="#c0c0c0" stroke="#222" stroke-width="1"/>
<path d="M521.1,910.5 A11.0,5.8 0 0 0 543.2,910.5 L543.2,918.5 A11.0,5.8 0 0 1 521.1,918.5 Z" fill="#1e1e1e"/>
<path d="M516.6,909.5 l6.5,-1 l0,15 l-6.5,0.5 z" fill="#4a4a4a" stroke="#111" stroke-width="1.4"/>
<ellipse cx="519.8" cy="917.0" rx="1.8" ry="3" fill="#888"/>
<path d="M541.7,906.5 l5.5,3 l0,13 l-5.5,-1 z" fill="#4a4a4a" stroke="#111" stroke-width="1.4"/>
<rect x="529.1" y="918.0" width="6.5" height="5.5" fill="#e4e4e4"/>
<g transform="translate(532.1,917.5)"><path d="M23,14 L33,19 L33,35 L23,30 Z" fill="#cacaca" stroke="#111" stroke-width="1.8" stroke-linejoin="round"/><path d="M33,19 L43,13 L43,29 L33,35 Z" fill="#c2c2c2" stroke="#111" stroke-width="1.8" stroke-linejoin="round"/><path d="M23,14 L26,7 L35,3 L43,7 L43,13 L33,19 Z" fill="#a8a8a8" stroke="#111" stroke-width="1.6" stroke-linejoin="round"/><path d="M27,9 L31,3 L37,1 L41,5 L38,10 L31,13 Z" fill="#1c1c1c"/><path d="M43,20 L48,19 A5,5 0 1 1 48,29 L43,31 Z" fill="#c6c6c6" stroke="#111" stroke-width="1.8" stroke-linejoin="round"/><circle cx="49" cy="24" r="2" fill="#222"/></g>
<ellipse cx="603.3" cy="1130.0" rx="10.5" ry="6" fill="#c8c8c8" stroke="#111" stroke-width="2"/>
<ellipse cx="603.3" cy="1128.5" rx="6" ry="3.2" fill="#1a1a1a"/>
<rect x="601.8" y="1122.0" width="3" height="6" fill="#333"/>
<ellipse cx="670.0" cy="1093.3" rx="10.5" ry="6" fill="#c8c8c8" stroke="#111" stroke-width="2"/>
<ellipse cx="670.0" cy="1091.8" rx="6" ry="3.2" fill="#1a1a1a"/>
<rect x="668.5" y="1085.3" width="3" height="6" fill="#333"/>
<ellipse cx="726.7" cy="1061.7" rx="10.5" ry="6" fill="#c8c8c8" stroke="#111" stroke-width="2"/>
<ellipse cx="726.7" cy="1060.2" rx="6" ry="3.2" fill="#1a1a1a"/>
<rect x="725.2" y="1053.7" width="3" height="6" fill="#333"/>
<ellipse cx="793.3" cy="1023.3" rx="10.5" ry="6" fill="#c8c8c8" stroke="#111" stroke-width="2"/>
<ellipse cx="793.3" cy="1021.8" rx="6" ry="3.2" fill="#1a1a1a"/>
<rect x="791.8" y="1015.3" width="3" height="6" fill="#333"/>
<ellipse cx="850.0" cy="990.0" rx="10.5" ry="6" fill="#c8c8c8" stroke="#111" stroke-width="2"/>
<ellipse cx="850.0" cy="988.5" rx="6" ry="3.2" fill="#1a1a1a"/>
<rect x="848.5" y="982.0" width="3" height="6" fill="#333"/>
<ellipse cx="918.3" cy="950.0" rx="10.5" ry="6" fill="#c8c8c8" stroke="#111" stroke-width="2"/>
<ellipse cx="918.3" cy="948.5" rx="6" ry="3.2" fill="#1a1a1a"/>
<rect x="916.8" y="942.0" width="3" height="6" fill="#333"/>
<polygon points="804.8,981.2 829.4,995.2 829.4,968.9 804.8,954.9" fill="#c2c2c2" stroke="#2a2a2a" stroke-width="1.3" stroke-linejoin="round"/>
<polygon points="829.4,995.2 954.9,923.8 954.9,897.5 829.4,968.9" fill="#c0c0c0" stroke="#2a2a2a" stroke-width="1.3" stroke-linejoin="round"/>
<polygon points="804.8,954.9 829.4,968.9 954.9,897.5 930.3,883.6" fill="#c6c6c6" stroke="#2a2a2a" stroke-width="1.3" stroke-linejoin="round"/>
<polygon points="684.4,1049.6 709.0,1063.6 709.0,1037.3 684.4,1023.3" fill="#c2c2c2" stroke="#2a2a2a" stroke-width="1.3" stroke-linejoin="round"/>
<polygon points="709.0,1063.6 829.4,995.2 829.4,968.9 709.0,1037.3" fill="#c0c0c0" stroke="#2a2a2a" stroke-width="1.3" stroke-linejoin="round"/>
<polygon points="684.4,1023.3 709.0,1037.3 829.4,968.9 804.8,954.9" fill="#c6c6c6" stroke="#2a2a2a" stroke-width="1.3" stroke-linejoin="round"/>
<polygon points="569.4,1115.5 591.9,1128.3 591.9,1103.8 569.4,1091.0" fill="#c2c2c2" stroke="#2a2a2a" stroke-width="1.3" stroke-linejoin="round"/>
<polygon points="591.9,1128.3 707.9,1062.4 707.9,1037.9 591.9,1103.8" fill="#c0c0c0" stroke="#2a2a2a" stroke-width="1.3" stroke-linejoin="round"/>
<polygon points="569.4,1091.0 591.9,1103.8 707.9,1037.9 685.4,1025.1" fill="#c6c6c6" stroke="#2a2a2a" stroke-width="1.3" stroke-linejoin="round"/>
<rect x="954.9" y="908.2" width="7" height="12" rx="2" fill="#d0d0d0" stroke="#222" stroke-width="1.3"/>
<rect x="705.0" y="1041.0" width="6" height="24" rx="2" fill="#d0d0d0" stroke="#222" stroke-width="1.3"/>
<line x1="705.0" y1="1053.0" x2="711.0" y2="1053.0" stroke="#222" stroke-width="1.2"/>
<rect x="825.4" y="972.6" width="6" height="24" rx="2" fill="#d0d0d0" stroke="#222" stroke-width="1.3"/>
<line x1="825.4" y1="984.6" x2="831.4" y2="984.6" stroke="#222" stroke-width="1.2"/>
<rect x="577.6" y="1107.9" width="7" height="24" rx="3" fill="#d4d4d4" stroke="#222" stroke-width="1.3"/>
<polygon points="665.5,1013.8 691.5,1028.5 691.5,1019.5 665.5,1004.8" fill="#c2c2c2" stroke="#2a2a2a" stroke-width="1.3" stroke-linejoin="round"/>
<polygon points="691.5,1028.5 712.3,1016.7 712.3,1007.7 691.5,1019.5" fill="#c0c0c0" stroke="#2a2a2a" stroke-width="1.3" stroke-linejoin="round"/>
<polygon points="665.5,1004.8 691.5,1019.5 712.3,1007.7 686.3,993.0" fill="#c6c6c6" stroke="#2a2a2a" stroke-width="1.3" stroke-linejoin="round"/>
<polygon points="786.8,944.9 812.7,959.6 812.7,950.6 786.8,935.9" fill="#c2c2c2" stroke="#2a2a2a" stroke-width="1.3" stroke-linejoin="round"/>
<polygon points="812.7,959.6 835.2,946.9 835.2,937.9 812.7,950.6" fill="#c0c0c0" stroke="#2a2a2a" stroke-width="1.3" stroke-linejoin="round"/>
<polygon points="786.8,935.9 812.7,950.6 835.2,937.9 809.3,923.1" fill="#c6c6c6" stroke="#2a2a2a" stroke-width="1.3" stroke-linejoin="round"/>
<path d="M653.0,1038.0 L642.0,1045.0 L645.0,1050.0 L656.0,1043.0 Z" fill="#3a3a3a" stroke="#111" stroke-width="1.3"/>
<ellipse cx="653.5" cy="1040.5" rx="3" ry="4" fill="#555" stroke="#111" stroke-width="1.2"/>
<ellipse cx="638.0" cy="1052.0" rx="5" ry="3.6" fill="#fff" stroke="#222" stroke-width="1.6"/>
<path d="M766.0,968.5 L755.0,975.5 L758.0,980.5 L769.0,973.5 Z" fill="#3a3a3a" stroke="#111" stroke-width="1.3"/>
<ellipse cx="766.5" cy="971.0" rx="3" ry="4" fill="#555" stroke="#111" stroke-width="1.2"/>
<ellipse cx="751.0" cy="982.5" rx="5" ry="3.6" fill="#fff" stroke="#222" stroke-width="1.6"/>
<path d="M889.0,896.0 L878.0,903.0 L881.0,908.0 L892.0,901.0 Z" fill="#3a3a3a" stroke="#111" stroke-width="1.3"/>
<ellipse cx="889.5" cy="898.5" rx="3" ry="4" fill="#555" stroke="#111" stroke-width="1.2"/>
<ellipse cx="874.0" cy="910.0" rx="5" ry="3.6" fill="#fff" stroke="#222" stroke-width="1.6"/>
<ellipse cx="603.0" cy="1085.0" rx="2.8" ry="2.2" fill="#555" stroke="#111" stroke-width="1.2"/>
<ellipse cx="675.0" cy="1043.0" rx="2.8" ry="2.2" fill="#555" stroke="#111" stroke-width="1.2"/>
<ellipse cx="726.7" cy="1013.0" rx="2.8" ry="2.2" fill="#555" stroke="#111" stroke-width="1.2"/>
<ellipse cx="796.7" cy="971.7" rx="2.8" ry="2.2" fill="#555" stroke="#111" stroke-width="1.2"/>
<ellipse cx="848.0" cy="941.7" rx="2.8" ry="2.2" fill="#555" stroke="#111" stroke-width="1.2"/>
<ellipse cx="920.0" cy="903.0" rx="2.8" ry="2.2" fill="#555" stroke="#111" stroke-width="1.2"/>
<path d="M591.0,1100.0 L598.0,1095.5" stroke="#1a1a1a" stroke-width="3" stroke-linecap="round"/>
<path d="M689.0,1042.0 L696.0,1037.5" stroke="#1a1a1a" stroke-width="3" stroke-linecap="round"/>
<path d="M712.7,1028.7 L719.7,1024.2" stroke="#1a1a1a" stroke-width="3" stroke-linecap="round"/>
<path d="M814.0,972.0 L821.0,967.5" stroke="#1a1a1a" stroke-width="3" stroke-linecap="round"/>
<path d="M837.7,962.0 L844.7,957.5" stroke="#1a1a1a" stroke-width="3" stroke-linecap="round"/>
<path d="M934.0,902.0 L941.0,897.5" stroke="#1a1a1a" stroke-width="3" stroke-linecap="round"/>
<g font-family="Liberation Sans, sans-serif" font-size="22.5" fill="#2e2e2e" stroke="#2e2e2e" stroke-width="0.5" letter-spacing="0.65">
<text x="1014.5" y="256.8" text-anchor="middle">Short</text>
<text x="1014.5" y="281.6" text-anchor="middle">Vertical</text>
<text x="1014.5" y="306.4" text-anchor="middle">Truss</text>
<text x="1014.5" y="578.0" text-anchor="middle">Long</text>
<text x="1014.5" y="603.6" text-anchor="middle">Vertical</text>
<text x="1014.5" y="629.2" text-anchor="middle">Truss</text>
<text x="1017.5" y="1050.6" text-anchor="middle">Stand</text>
<text x="1017.5" y="1074.3" text-anchor="middle">Base</text>
<text x="190.5" y="1046.6" text-anchor="middle">Short</text>
<text x="190.5" y="1071.2" text-anchor="middle">Extension</text>
<text x="190.5" y="1095.8" text-anchor="middle">Leg</text>
<text x="341.3" y="1127.9" text-anchor="middle">Long</text>
<text x="341.3" y="1153.6" text-anchor="middle">Extension</text>
<text x="341.3" y="1179.3" text-anchor="middle">Leg</text>
</g>
<line x1="880.4" y1="167.1" x2="957.5" y2="222.9" stroke="#aa3e30" stroke-width="2.8"/>
<line x1="880.4" y1="489.6" x2="957.5" y2="545.4" stroke="#aa3e30" stroke-width="2.8"/>
<line x1="885.8" y1="960.4" x2="963.3" y2="1016.3" stroke="#aa3e30" stroke-width="2.8"/>
<line x1="243.3" y1="1026.3" x2="327.1" y2="977.5" stroke="#aa3e30" stroke-width="2.8"/>
<line x1="394.7" y1="1110.5" x2="477.7" y2="1062.8" stroke="#aa3e30" stroke-width="2.8"/></svg></body></html>
